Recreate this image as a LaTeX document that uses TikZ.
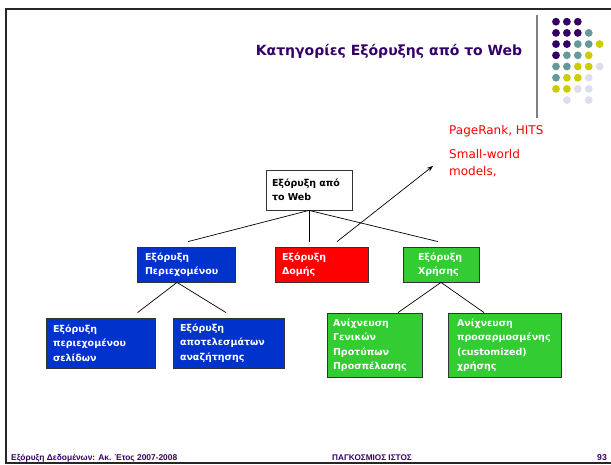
\documentclass[tikz,border=0pt]{standalone}
\usepackage{fontspec}
\setmainfont{DejaVu Sans}
\newfontfamily\footfont{Liberation Sans}
\usetikzlibrary{calc,arrows.meta}
\definecolor{dpurple}{HTML}{330066}
\definecolor{dteal}{HTML}{669999}
\definecolor{dyellow}{HTML}{CCCC00}
\definecolor{dlav}{HTML}{DDDDEE}
\definecolor{bblue}{HTML}{0033CC}
\definecolor{bred}{HTML}{FF0000}
\definecolor{bgreen}{HTML}{33CC33}
\tikzset{
  box/.style={draw=black!80, line width=0.8pt, align=left, inner ysep=0pt, text=white,
    font=\fontsize{9.5}{14.5}\selectfont\bfseries},
  conn/.style={line width=0.7pt, black},
  foot/.style={text=dpurple, inner sep=0pt},
  dotp/.style={fill=dpurple}, dott/.style={fill=dteal},
  doty/.style={fill=dyellow}, dotl/.style={fill=dlav}, dotn/.style={},
}
\begin{document}
\begin{tikzpicture}[x=1pt,y=-1pt]
\useasboundingbox (0,0) rectangle (611,464);
% frame
\draw[line width=2.2pt, black!85] (611,9) -- (6,9) -- (6,463) -- (611,463);
% gray separator
\draw[line width=1.8pt, black!50] (537,15) -- (537,118);
% dots
\foreach \r/\row in {0/{p,p,p,n,n},1/{p,p,p,t,n},2/{p,p,t,t,y},3/{p,t,t,y,n},4/{t,t,y,y,l},5/{t,y,y,l,n},6/{y,y,l,l,n},7/{n,l,n,l,n}}{
  \foreach \c [count=\i from 0] in \row {
      \path[dot\c] (556+\i*10.9, 21.7+\r*11.2) circle (3.9);
  }
}
% title
\node[text=dpurple, font=\fontsize{14}{16}\selectfont\bfseries] (title) at (389,51) {Κατηγορίες Εξόρυξης από το Web};
% red text
\node[text=bred, anchor=west, inner sep=0pt, font=\fontsize{12}{17}\selectfont] (pr) at (449,131) {PageRank, HITS};
\node[text=bred, anchor=west, align=left, inner sep=0pt, font=\fontsize{12}{17}\selectfont] (sw) at (449,163.5) {Small-world\\models,};
% boxes
\node[box, fill=white, text=black, minimum height=40pt, text width=74pt, inner xsep=6pt] (root) at (309,190) {Εξόρυξη από\\το Web};
\node[box, fill=bblue, minimum height=35pt, text width=82pt, inner xsep=8pt] (cont) at (186,264.5) {Εξόρυξη\\Περιεχομένου};
\node[box, fill=bred, minimum height=35pt, text width=79pt, inner xsep=7pt] (struct) at (321.5,264.5) {Εξόρυξη\\Δομής};
\node[box, fill=bgreen, minimum height=35pt, text width=46pt, inner xsep=15pt] (usage) at (441,264.5) {Εξόρυξη\\Χρήσης};
\node[box, fill=bblue, minimum height=50pt, text width=95pt, inner xsep=7pt] (b1) at (100.5,343) {Εξόρυξη\\περιεχομένου\\σελίδων};
\node[box, fill=bblue, minimum height=50pt, text width=97pt, inner xsep=7pt] (b2) at (228.5,343) {Εξόρυξη\\αποτελεσμάτων\\αναζήτησης};
\node[box, fill=bgreen, minimum height=64pt, text width=83pt, inner xsep=6pt] (g1) at (374.5,345) {Ανίχνευση\\Γενικών\\Προτύπων\\Προσπέλασης};
\node[box, fill=bgreen, minimum height=64pt, text width=95pt, inner xsep=9pt] (g2) at (504.5,345) {Ανίχνευση\\προσαρμοσμένης\\(customized)\\χρήσης};
% connectors
\draw[conn] (root.south) -- ($(cont.north)+(2pt,5pt)$);
\draw[conn] (root.south) -- ($(root.south |- struct.north)+(0pt,5pt)$);
\draw[conn] (root.south) -- ($(usage.north)+(-3pt,5pt)$);
\draw[conn] ($(cont.south)+(-9pt,0pt)$) -- ($(b1.north)+(37pt,5pt)$);
\draw[conn] ($(cont.south)+(-9pt,0pt)$) -- ($(b2.north)+(-2.5pt,5pt)$);
\draw[conn] (usage.south) -- ($(g1.north)+(23.5pt,0pt)$);
\draw[conn] (usage.south) -- ($(g2.north)+(-20.5pt,0pt)$);
\coordinate (tip) at (433,166);
\draw[conn, -{Stealth[length=6pt,width=4.5pt]}] ($(struct.north)+(15.5pt,5pt)$) -- (tip);
% footer
\node[foot, anchor=west, font=\footfont\fontsize{8.4}{10}\selectfont\bfseries] (fl) at (11,458) {Εξόρυξη Δεδομένων: Ακ. Έτος 2007-2008};
\node[foot, anchor=west, font=\footfont\fontsize{8.2}{10}\selectfont\bfseries] (fc) at (332,458) {ΠΑΓΚΟΣΜΙΟΣ ΙΣΤΟΣ};
\node[foot, anchor=east, font=\footfont\fontsize{8.6}{10}\selectfont\bfseries] (fr) at (607,458) {93};
\end{tikzpicture}
\end{document}
